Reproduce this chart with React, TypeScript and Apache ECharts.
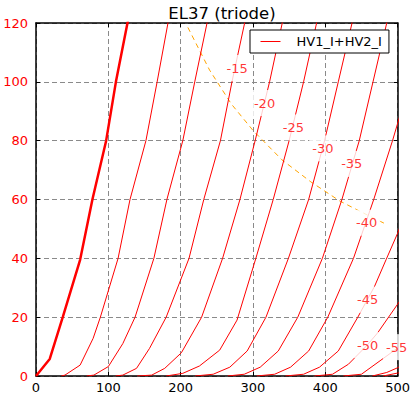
import React, { useEffect, useRef } from "react";
import * as echarts from "echarts";

const FONT = "DejaVu Sans";
const RED = "#ff0000";

const chartTitle = "EL37 (triode)";
const legendName = "HV1_I+HV2_I";
const xTicks = { min: 0, max: 500, step: 100 };
const yTicks = { min: 0, max: 120, step: 20 };

// Plate voltage [V] vs plate current [mA], one array per grid voltage
const curveG0 = [[0, 0], [19, 5.8], [37, 20], [61, 39.5], [78, 60], [97, 80], [110.5, 100], [126.5, 120], [131, 126]];
const curveG5 = [[35, 0], [40, 0.3], [61, 3.7], [79, 12.8], [89, 20], [113.5, 40], [130, 60], [152, 80], [167.5, 100], [182.5, 120], [186, 126]];
const curveG10 = [[70, 0], [80, 0.3], [100, 3.2], [120, 11], [137, 20], [163, 40], [181, 60], [203, 80], [219.5, 100], [236.5, 120], [240, 126]];
const curveG15 = [[110, 0], [120, 0.3], [139, 2.6], [157, 9.4], [180, 20], [211.6, 40], [232, 60], [255, 80], [271, 100], [288.5, 120], [292, 126]];
const curveG20 = [[140, 0], [160, 0.3], [178, 2.6], [201, 7.9], [229, 20], [258, 40], [282, 60], [303, 80], [323, 100], [340.5, 120], [344, 126]];
const curveG25 = [[180, 0], [203, 0.9], [226, 3.4], [254, 8.8], [278, 19], [304, 40], [328, 60], [350, 80], [370, 100], [388, 120], [391, 126]];
const curveG30 = [[220, 0], [245, 0.6], [268, 3], [292, 8.5], [318, 20], [349, 40], [377, 60], [399, 80], [418, 100], [437, 120], [440, 126]];
const curveG35 = [[265, 0], [288, 0.6], [310, 3], [335, 8.5], [362, 20], [396, 40], [423, 60], [447, 80], [466, 100], [485, 120], [488, 126]];
const curveG40 = [[305, 0], [330, 0.6], [352, 3], [377, 8.5], [403.5, 20], [439, 40], [467, 60], [493, 80], [505, 90]];
const curveG45 = [[345, 0], [370, 0.6], [392, 3], [418, 8.5], [445, 20], [468, 30.4], [484, 39.5], [500, 48.5], [510, 55]];
const curveG50 = [[385, 0], [410, 0.6], [432, 4], [458, 10.5], [472.5, 14.7], [500, 24.4], [510, 28]];
const curveG55 = [[425, 0], [450, 0.6], [477, 5.4], [500, 9.5], [510, 11.5]];
const curveG60 = [[465, 0], [485, 1.2], [500, 2.8], [510, 4]];
const curveG65 = [[480, 0], [500, 1], [510, 1.5]];

const thinCurves = [curveG5, curveG10, curveG15, curveG20, curveG25, curveG30, curveG35, curveG40, curveG45, curveG50, curveG55, curveG60, curveG65];

// 25 W dissipation limit
const dissipation25W = [[210, 118.5], [240, 104], [270, 92.5], [300, 83.5], [340, 73.5], [380, 66], [420, 59.5], [460, 54.5], [485, 51.5]];

// Grid-voltage labels: [V, mA, text]
const gridLabels = [
  [278, 104.7, "-15"],
  [316, 92.8, "-20"],
  [356, 84.5, "-25"],
  [396.6, 77.4, "-30"],
  [436.6, 72.1, "-35"],
  [457.3, 52.1, "-40"],
  [458.7, 25.9, "-45"],
  [458.7, 10.5, "-50"],
  [498.7, 9.8, "-55"],
];

export default function App() {
  const ref = useRef<HTMLDivElement>(null);
  useEffect(() => {
    if (!ref.current) return;
    const chart = echarts.init(ref.current, null, { renderer: "svg" });
    const frameLine = { show: true, onZero: false, lineStyle: { color: "#000", width: 1.5 } };
    const tick = { show: true, inside: true, length: 4, lineStyle: { color: "#000", width: 1 } };
    const split = { show: true, lineStyle: { color: "#8a8a8a", type: [5, 3], width: 1 } };

    const makeCurve = (d: number[][], width: number) => ({
      type: "line",
      name: legendName,
      data: d,
      symbol: "none",
      showSymbol: false,
      clip: true,
      silent: true,
      z: 3,
      itemStyle: { color: RED },
      lineStyle: { color: RED, width },
    });
    const curveSeries: any[] = thinCurves.map((d) => makeCurve(d, 1));
    curveSeries.push(makeCurve(curveG0, 2.5));

    chart.setOption({
      animation: false,
      backgroundColor: "#fff",
      title: {
        text: chartTitle,
        left: 217,
        textAlign: "center",
        top: 0,
        textStyle: { fontFamily: FONT, fontSize: 16.5, fontWeight: "normal", color: "#000" },
      },
      legend: {
        data: [{ name: legendName, lineStyle: { width: 1, color: RED }, itemStyle: { color: RED, opacity: 0 } }],
        left: 250,
        top: 30,
        padding: [5, 7, 5, 10],
        itemWidth: 20,
        itemHeight: 14,
        borderColor: "#000",
        borderWidth: 1,
        borderRadius: 0,
        backgroundColor: "#fff",
        textStyle: { fontFamily: FONT, fontSize: 13, color: "#000", padding: [0, 0, 0, 11] },
        selectedMode: false,
        z: 20,
      },
      grid: { left: 36, right: 15, top: 23, bottom: 23, containLabel: false },
      xAxis: [
        {
          type: "value", min: xTicks.min, max: xTicks.max, interval: xTicks.step, position: "bottom",
          axisLine: frameLine, axisTick: tick, splitLine: split,
          axisLabel: { color: "#000", fontFamily: FONT, fontSize: 13, margin: 5 },
        },
        {
          type: "value", min: xTicks.min, max: xTicks.max, interval: xTicks.step, position: "top",
          axisLine: frameLine, axisTick: tick, splitLine: { show: false }, axisLabel: { show: false },
        },
      ],
      yAxis: [
        {
          type: "value", min: yTicks.min, max: yTicks.max, interval: yTicks.step, position: "left",
          axisLine: frameLine, axisTick: tick, splitLine: split,
          axisLabel: { color: RED, fontFamily: FONT, fontSize: 13, margin: 8 },
        },
        {
          type: "value", min: yTicks.min, max: yTicks.max, interval: yTicks.step, position: "right",
          axisLine: frameLine, axisTick: tick, splitLine: { show: false }, axisLabel: { show: false },
        },
      ],
      series: [
        ...curveSeries,
        {
          type: "line",
          name: "Pmax",
          data: dissipation25W,
          symbol: "none",
          showSymbol: false,
          silent: true,
          z: 2,
          lineStyle: { color: "#ffa500", width: 1, type: [5, 4] },
        },
        {
          type: "scatter",
          name: "labels",
          data: gridLabels,
          symbolSize: 1,
          silent: true,
          z: 10,
          itemStyle: { color: "transparent" },
          label: {
            show: true,
            position: "inside",
            formatter: (p: any) => p.value[2],
            color: RED,
            fontFamily: FONT,
            fontSize: 13,
            lineHeight: 16,
            backgroundColor: "#fff",
            padding: [5, 3],
          },
        },
      ],
    });
    return () => chart.dispose();
  }, []);
  return <div ref={ref} style={{ position: "absolute", left: 0, top: 0, width: 413, height: 399 }} />;
}
